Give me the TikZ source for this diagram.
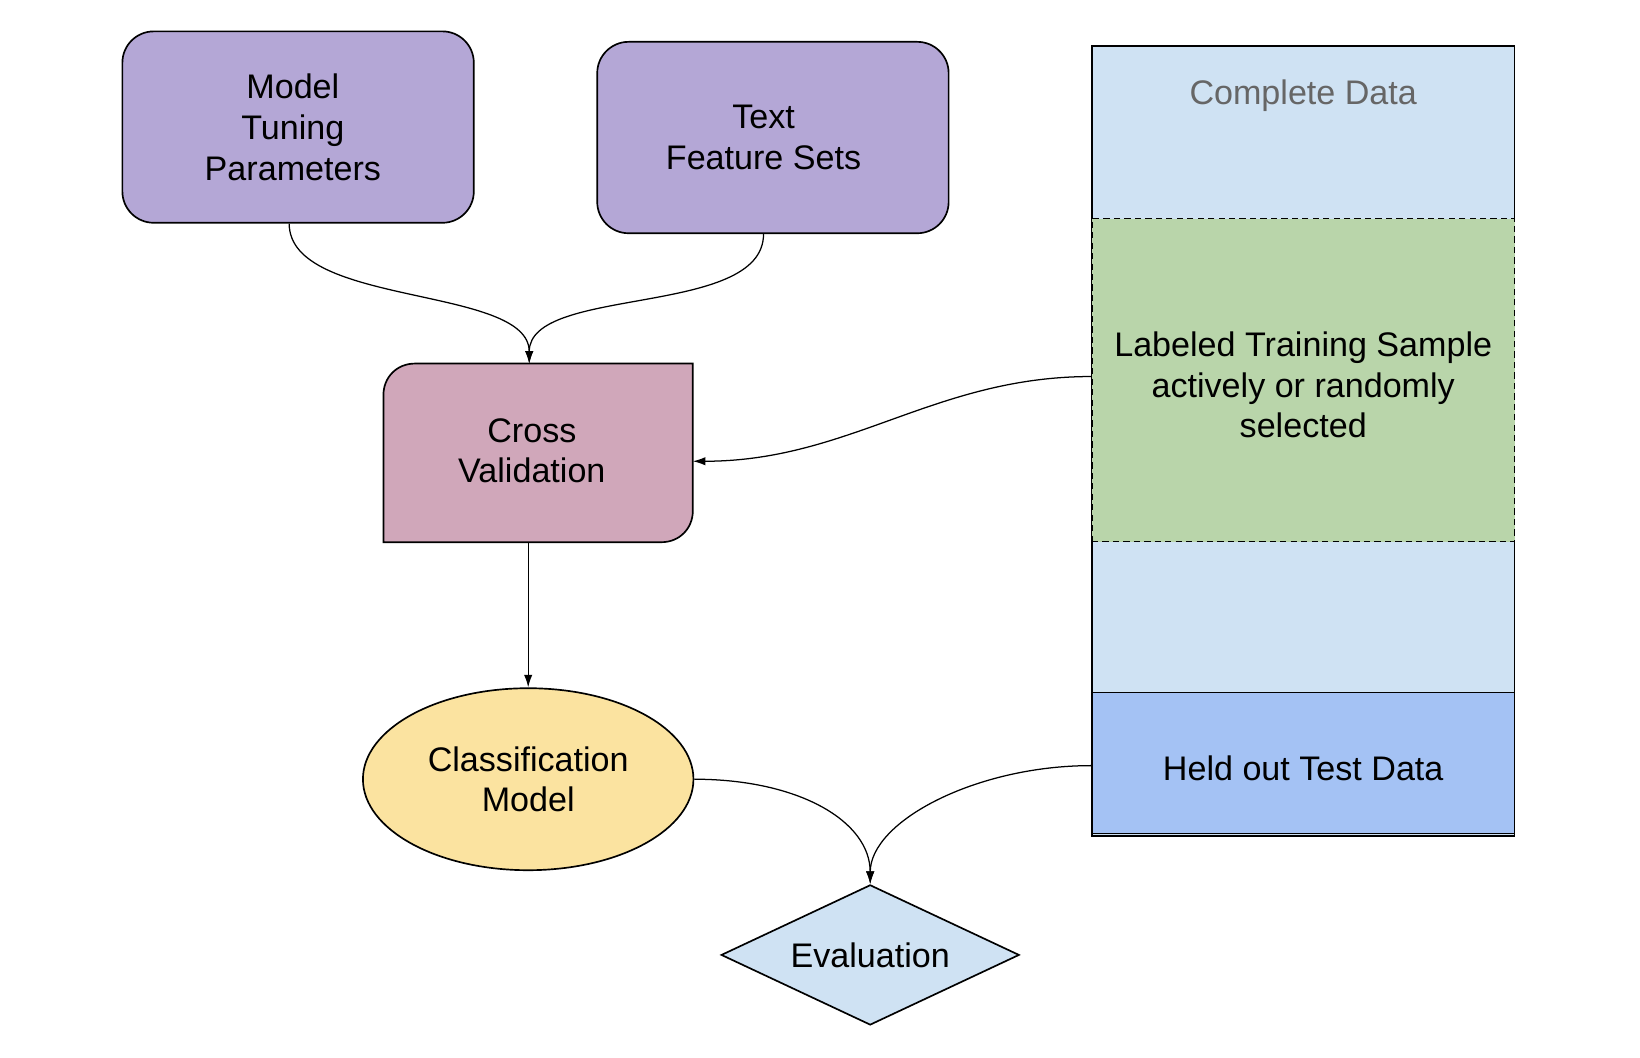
\documentclass[tikz,border=0pt]{standalone}
\usepackage{fontspec}
\setmainfont{Liberation Sans}
\usetikzlibrary{shapes.geometric,arrows.meta,calc,backgrounds}
\definecolor{purp}{HTML}{B4A7D6}
\definecolor{cvc}{HTML}{D0A7BA}
\definecolor{lblue}{HTML}{CFE2F3}
\definecolor{grn}{HTML}{B9D5AA}
\definecolor{hblue}{HTML}{A4C2F4}
\definecolor{yel}{HTML}{FBE3A0}
\definecolor{dgrey}{HTML}{666666}
\begin{document}
\begin{tikzpicture}[x=0.5pt,y=-0.5pt,
 every node/.style={font=\fontsize{16.3}{19.5}\selectfont, align=center},
 every label/.style={font=\fontsize{16.3}{19.5}\selectfont, align=center, draw=none, fill=none, inner sep=0pt, minimum size=0pt, solid},
 purplebox/.style={draw, line width=0.8pt, fill=purp, rounded corners=15pt, minimum width=168pt, minimum height=91.5pt, inner sep=0pt},
 colbox/.style={draw, line width=0.8pt, minimum width=202pt, inner sep=0pt},
 conn/.style={line width=0.6pt, -{Latex[length=6pt,width=4pt]}},
 ]
\useasboundingbox (0,0) rectangle (1568,1011.5);

\node[purplebox, label={[xshift=-2.5pt]center:{Model\\Tuning\\Parameters}}] (mtp) at (285,121.5) {};
\node[purplebox, label={[xshift=-4.5pt]center:{Text\\Feature Sets}}] (tfs) at (739,131.5) {};
\node[minimum width=147.5pt, minimum height=85pt, inner sep=0pt, label={[xshift=-3pt, yshift=1pt]center:{Cross\\Validation}}] (cv) at (514.5,433) {};
\begin{scope}[on background layer]
\draw[line width=0.8pt, fill=cvc] (cv.south west) -- ($(cv.north west)+(0,30)$) .. controls ($(cv.north west)+(0,13)$) and ($(cv.north west)+(13,0)$) .. ($(cv.north west)+(30,0)$) -- (cv.north east) -- ($(cv.south east)+(0,-30)$) .. controls ($(cv.south east)+(0,-13)$) and ($(cv.south east)+(-13,0)$) .. ($(cv.south east)+(-30,0)$) -- cycle;
\end{scope}

\node[colbox, fill=lblue, minimum height=377.5pt] (cd) at (1246,421.5) {};
\node[text=dgrey] (cdt) at (1246,91.5) {Complete Data};
\node[colbox, fill=grn, line width=0.6pt, dash pattern=on 3pt off 2pt, minimum height=154.5pt, label={[yshift=-2.3pt]center:{Labeled Training Sample\\actively or randomly\\selected}}] (lts) at (1246,363.5) {};
\node[colbox, fill=hblue, minimum height=67.5pt, label={[yshift=-2.5pt]center:{Held out Test Data}}] (hot) at (1246,729.5) {};

\node[ellipse, draw, line width=0.8pt, fill=yel, minimum width=158pt, minimum height=87pt, inner sep=0pt] (cm) at (505,745) {Classification\\Model};
\node[diamond, draw, line width=0.8pt, fill=lblue, aspect=2.1, minimum width=142.5pt, minimum height=67pt, inner sep=0pt] (ev) at (832,913) {Evaluation};

\draw[conn] ($(mtp.south)+(-8.5,0)$) .. controls +(0,80) and +(0,-75) .. ($(cv.north)+(-8.5,0)$);
\draw[conn] ($(tfs.south)+(-9,0)$) .. controls +(0,80) and +(0,-75) .. ($(cv.north)+(-8.5,0)$);
\draw[conn] ($(lts.west)+(0,-3.5)$) .. controls +(-150,0) and +(150,0) .. ($(cv.east)+(0,8)$);
\draw[conn] ($(cv.south)+(-9.5,0)$) -- (cm.north);
\draw[conn] (cm.east) .. controls +(100,0) and +(0,-60) .. (ev.north);
\draw[conn] ($(hot.west)+(0,2.5)$) .. controls +(-110,0) and +(0,-60) .. (ev.north);
\end{tikzpicture}
\end{document}
